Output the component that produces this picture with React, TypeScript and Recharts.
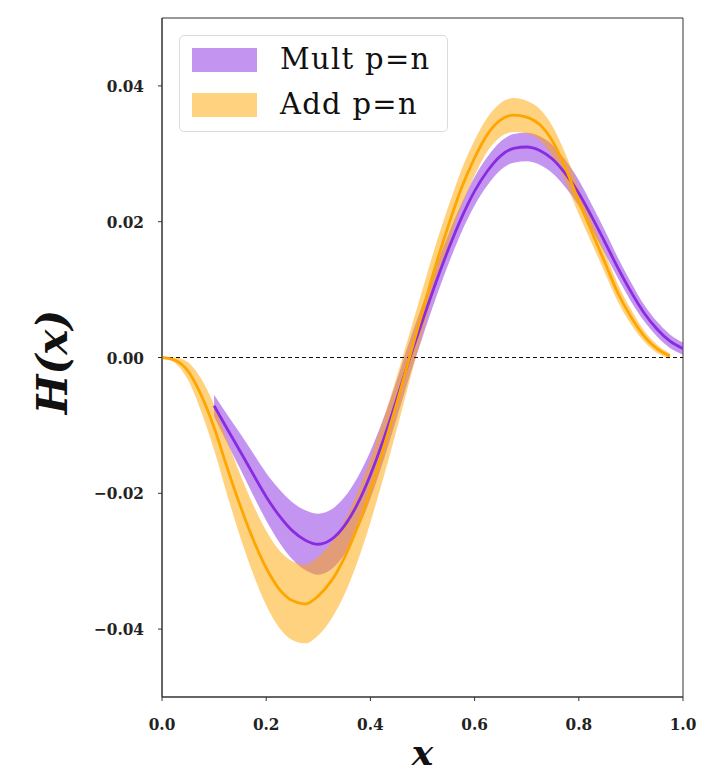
import React from 'react';
import { ComposedChart, Area, Line, XAxis, YAxis, ReferenceLine, ReferenceArea, Legend, Label } from 'recharts';

const xs = [0, 0.025, 0.05, 0.075, 0.1, 0.125, 0.15, 0.175, 0.2, 0.225, 0.25, 0.275, 0.3, 0.325, 0.35, 0.375, 0.4, 0.425, 0.45, 0.475, 0.5, 0.525, 0.55, 0.575, 0.6, 0.625, 0.65, 0.675, 0.7, 0.725, 0.75, 0.775, 0.8, 0.825, 0.85, 0.875, 0.9, 0.925, 0.95, 0.975, 1.0];

const addMean = [0, -0.0004, -0.002, -0.0055, -0.0103, -0.0162, -0.0218, -0.0268, -0.031, -0.0341, -0.0358, -0.0363, -0.0351, -0.0329, -0.0295, -0.025, -0.0196, -0.0134, -0.0069, 0.0, 0.0068, 0.0135, 0.0195, 0.025, 0.0294, 0.0329, 0.035, 0.0357, 0.0354, 0.0343, 0.0318, 0.0278, 0.023, 0.0185, 0.014, 0.0095, 0.006, 0.0032, 0.0013, 0.0002, null];
const addLower = [0, -0.0008, -0.0033, -0.0079, -0.0136, -0.0202, -0.0264, -0.0319, -0.0365, -0.0398, -0.0416, -0.0421, -0.0409, -0.0385, -0.0349, -0.0301, -0.0243, -0.0177, -0.0108, -0.0035, 0.0036, 0.0105, 0.0167, 0.0223, 0.0268, 0.0304, 0.0325, 0.0332, 0.033, 0.032, 0.0296, 0.0257, 0.0211, 0.0168, 0.0125, 0.0082, 0.0049, 0.0024, 0.0007, -0.0002, null];
const addUpper = [0, 0.0, -0.0007, -0.0031, -0.007, -0.0122, -0.0172, -0.0217, -0.0255, -0.0284, -0.03, -0.0305, -0.0293, -0.0273, -0.0241, -0.0199, -0.0149, -0.0091, -0.003, 0.0035, 0.01, 0.0165, 0.0223, 0.0277, 0.032, 0.0354, 0.0375, 0.0382, 0.0378, 0.0366, 0.034, 0.0299, 0.0249, 0.0202, 0.0155, 0.0108, 0.0071, 0.004, 0.0019, 0.0006, null];

const multMean = [null, null, null, null, -0.0071, -0.0105, -0.0138, -0.0172, -0.0205, -0.0233, -0.0255, -0.0269, -0.0275, -0.0268, -0.0248, -0.0216, -0.0173, -0.0121, -0.0063, -0.0002, 0.0054, 0.0109, 0.016, 0.0206, 0.0245, 0.0275, 0.0297, 0.0308, 0.031, 0.0305, 0.0292, 0.027, 0.0242, 0.0207, 0.017, 0.0132, 0.0097, 0.0066, 0.0042, 0.0024, 0.0013];
const multLower = [null, null, null, null, -0.0087, -0.0126, -0.0164, -0.0203, -0.024, -0.0272, -0.0297, -0.0313, -0.032, -0.0312, -0.029, -0.0255, -0.0208, -0.0152, -0.0091, -0.0028, 0.003, 0.0086, 0.0138, 0.0185, 0.0224, 0.0254, 0.0276, 0.0287, 0.0289, 0.0284, 0.0271, 0.025, 0.0223, 0.0189, 0.0153, 0.0117, 0.0083, 0.0054, 0.0031, 0.0014, 0.0004];
const multUpper = [null, null, null, null, -0.0055, -0.0084, -0.0112, -0.0141, -0.017, -0.0194, -0.0213, -0.0225, -0.023, -0.0224, -0.0206, -0.0177, -0.0138, -0.009, -0.0035, 0.0024, 0.0078, 0.0132, 0.0182, 0.0227, 0.0266, 0.0296, 0.0318, 0.0329, 0.0331, 0.0326, 0.0313, 0.029, 0.0261, 0.0225, 0.0187, 0.0147, 0.0111, 0.0078, 0.0053, 0.0034, 0.0022];

const xTicks = [0, 0.2, 0.4, 0.6, 0.8, 1.0];
const yTicks = [-0.04, -0.02, 0, 0.02, 0.04];

const legendItems = [
  { label: 'Mult p=n', color: '#8A2BE2' },
  { label: 'Add p=n', color: '#FFA500' },
];

const MULT = '#8A2BE2';
const ADD = '#FFA500';

const data = xs.map((x, i) => ({
  x,
  addMean: addMean[i],
  addBand: addLower[i] === null ? null : [addLower[i], addUpper[i]],
  multMean: multMean[i],
  multBand: multLower[i] === null ? null : [multLower[i], multUpper[i]],
}));

const tickFont = { fontFamily: '"DejaVu Serif Condensed", "DejaVu Serif", serif', fontWeight: 'bold', fontSize: 17, fill: '#222' };
const fmtY = (v: number) => (v < 0 ? '\u2212' + Math.abs(v).toFixed(2) : v.toFixed(2));
const fmtX = (v: number) => v.toFixed(1);

const LegendBox = () => (
  <div style={{ position: 'relative', width: 269, height: 97, boxSizing: 'border-box', border: '1px solid #dcdcdc', borderRadius: 5, background: 'rgba(255,255,255,0.85)' }}>
    {legendItems.map((it, i) => (
      <React.Fragment key={it.label}>
        <div style={{ position: 'absolute', left: 12, top: 12 + i * 45, width: 65, height: 24, background: it.color, opacity: 0.5 }} />
        <div style={{ position: 'absolute', left: 100, top: 3 + i * 45, height: 40, lineHeight: '40px', fontFamily: 'DejaVu Serif', fontSize: 29, color: '#111', whiteSpace: 'nowrap', letterSpacing: 1.3 }}>{it.label}</div>
      </React.Fragment>
    ))}
  </div>
);

export default function App() {
  return (
    <div style={{ height: 761 }}>
      <ComposedChart width={699} height={769} data={data} margin={{ top: 10, right: 24, bottom: 8, left: 0 }}>
        <XAxis dataKey="x" type="number" domain={[0, 1]} ticks={xTicks} tickFormatter={fmtX} tick={tickFont} tickSize={4} tickMargin={17} height={72} stroke="#333" allowDataOverflow>
          <Label content={({ viewBox }: any) => (
            <text x={viewBox.x + viewBox.width / 2} y={757} textAnchor="middle" fontFamily="DejaVu Serif" fontWeight="bold" fontStyle="italic" fontSize={36} fill="#111">x</text>
          )} />
        </XAxis>
        <YAxis type="number" domain={[-0.05, 0.05]} ticks={yTicks} tickFormatter={fmtY} tick={tickFont} tickSize={4} tickMargin={14} width={154} stroke="#333" allowDataOverflow>
          <Label content={() => (
            <text x={44} y={354} transform="rotate(-90 44 354)" textAnchor="middle" dominantBaseline="central" fontFamily="DejaVu Serif" fontWeight="bold" fontStyle="italic" fontSize={42} fill="#111">H(x)</text>
          )} />
        </YAxis>
        <ReferenceArea x1={0} x2={1} y1={-0.05} y2={0.05} fill="none" stroke="#333" strokeWidth={1} />
        <ReferenceLine y={0} stroke="#111" strokeDasharray="4 3" strokeWidth={1} />
        <Area type="monotone" dataKey="multBand" stroke="none" fill={MULT} fillOpacity={0.5} isAnimationActive={false} connectNulls={false} />
        <Line type="monotone" dataKey="multMean" stroke={MULT} strokeWidth={2.8} dot={false} isAnimationActive={false} connectNulls={false} />
        <Area type="monotone" dataKey="addBand" stroke="none" fill={ADD} fillOpacity={0.5} isAnimationActive={false} connectNulls={false} />
        <Line type="monotone" dataKey="addMean" stroke={ADD} strokeWidth={2.8} dot={false} isAnimationActive={false} connectNulls={false} />
        <Legend layout="horizontal" verticalAlign="middle" align="center" content={() => <LegendBox />} wrapperStyle={{ position: 'absolute', left: 171, top: 27, width: 269, height: 97 }} />
      </ComposedChart>
    </div>
  );
}
